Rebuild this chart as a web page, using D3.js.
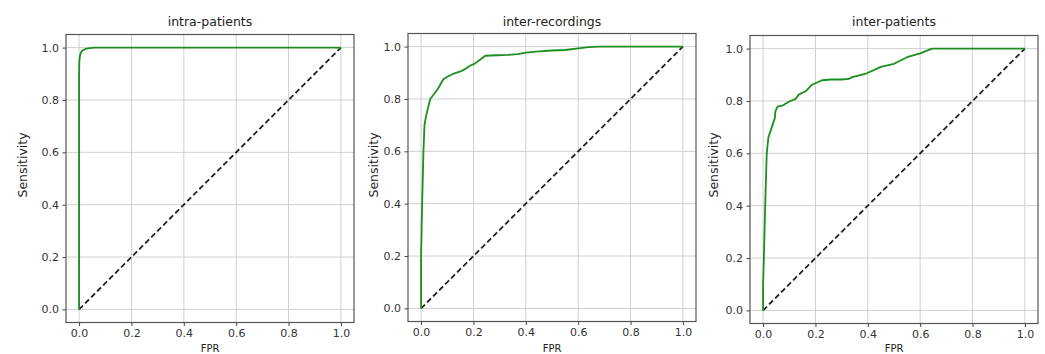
<!DOCTYPE html>
<html>
<head>
<meta charset="utf-8">
<script src="https://cdn.jsdelivr.net/npm/d3@7"></script>
<style>
  body { margin: 0; background: #fff; }
  svg { display: block; font-family: "DejaVu Sans", sans-serif; }
  .tick text { fill: #333; }
</style>
</head>
<body>
<svg id="chart" width="1045" height="354"></svg>
<script>
// values
const titles = ["intra-patients", "inter-recordings", "inter-patients"];
const ticks = [0, 0.2, 0.4, 0.6, 0.8, 1.0];

const fprIntraPatients = [0, 0.0, 0.001, 0.004, 0.008, 0.014, 0.025, 0.04, 0.06, 1.0];
const tprIntraPatients = [0, 0.9, 0.95, 0.972, 0.983, 0.99, 0.995, 0.998, 1.0, 1.0];

const fprInterRecordings = [0, 0.0, 0.002, 0.004, 0.009, 0.013, 0.018, 0.025, 0.035, 0.05, 0.065, 0.085, 0.1, 0.125, 0.15, 0.168, 0.185, 0.205, 0.225, 0.245, 0.29, 0.33, 0.37, 0.4, 0.45, 0.5, 0.55, 0.6, 0.64, 0.68, 1.0];
const tprInterRecordings = [0, 0.2, 0.3, 0.4, 0.6, 0.7, 0.73, 0.76, 0.8, 0.82, 0.84, 0.875, 0.885, 0.897, 0.905, 0.914, 0.926, 0.935, 0.95, 0.965, 0.967, 0.968, 0.971, 0.977, 0.982, 0.985, 0.987, 0.993, 0.998, 1.0, 1.0];

const fprInterPatients = [0, 0.0, 0.003, 0.008, 0.011, 0.014, 0.02, 0.03, 0.04, 0.045, 0.047, 0.055, 0.073, 0.098, 0.124, 0.136, 0.162, 0.187, 0.225, 0.26, 0.3, 0.327, 0.34, 0.39, 0.45, 0.5, 0.55, 0.6, 0.645, 1.0];
const tprInterPatients = [0, 0.1, 0.2, 0.4, 0.5, 0.6, 0.66, 0.69, 0.72, 0.735, 0.76, 0.778, 0.782, 0.797, 0.808, 0.824, 0.837, 0.862, 0.879, 0.882, 0.882, 0.884, 0.891, 0.903, 0.93, 0.942, 0.967, 0.982, 1.0, 1.0];

const chance = [0, 1];

const curves = [
  [fprIntraPatients, tprIntraPatients],
  [fprInterRecordings, tprInterRecordings],
  [fprInterPatients, tprInterPatients]
];

// panel boxes (pixels)
const boxes = [
  {left: 66, top: 34.5, ylab: 22},
  {left: 408, top: 33.5, ylab: 373},
  {left: 750, top: 35.5, ylab: 713}
];
const size = 288;

const svg = d3.select("#chart");

boxes.forEach((b, i) => {
  let x = d3.scaleLinear().domain([-0.05, 1.05]).range([b.left, b.left + size]);
  let y = d3.scaleLinear().domain([-0.05, 1.05]).range([b.top + size, b.top]);
  let g = svg.append("g");

  // grid
  g.append("g").selectAll("line").data(ticks).enter().append("line")
    .attr("x1", d => x(d)).attr("x2", d => x(d))
    .attr("y1", b.top).attr("y2", b.top + size)
    .attr("stroke", "#d0d0d0").attr("stroke-width", 1);
  g.append("g").selectAll("line").data(ticks).enter().append("line")
    .attr("y1", d => y(d)).attr("y2", d => y(d))
    .attr("x1", b.left).attr("x2", b.left + size)
    .attr("stroke", "#d0d0d0").attr("stroke-width", 1);

  // axes
  let xAxis = g.append("g")
    .attr("transform", "translate(0," + (b.top + size) + ")")
    .call(d3.axisBottom(x).tickValues(ticks).tickFormat(d3.format(".1f")).tickSizeOuter(0).tickSize(3.5).tickPadding(3.5));
  let yAxis = g.append("g")
    .attr("transform", "translate(" + b.left + ",0)")
    .call(d3.axisLeft(y).tickValues(ticks).tickFormat(d3.format(".1f")).tickSizeOuter(0).tickSize(3.5).tickPadding(3.5));
  [xAxis, yAxis].forEach(a => {
    a.select(".domain").remove();
    a.selectAll(".tick line").attr("stroke", "#444");
    a.selectAll(".tick text").attr("font-size", 11).attr("font-family", "DejaVu Sans");
  });

  // diagonal
  g.append("path")
    .datum(chance)
    .attr("d", d3.line().x(d => x(d)).y(d => y(d)))
    .attr("fill", "none").attr("stroke", "#222")
    .attr("stroke-width", 1.8).attr("stroke-dasharray", "5.5,3");

  // ROC curve
  let [fpr, tpr] = curves[i];
  g.append("path")
    .datum(d3.range(fpr.length))
    .attr("d", d3.line().x(k => x(fpr[k])).y(k => y(tpr[k])))
    .attr("fill", "none").attr("stroke", "#1c8f1c")
    .attr("stroke-width", 1.8).attr("stroke-linejoin", "round");

  // frame
  g.append("rect")
    .attr("x", b.left).attr("y", b.top).attr("width", size).attr("height", size)
    .attr("fill", "none").attr("stroke", "#555").attr("stroke-width", 1.2);

  // labels
  g.append("text").text(titles[i])
    .attr("x", b.left + size / 2).attr("y", 26)
    .attr("text-anchor", "middle").attr("font-size", 12.5).attr("fill", "#222");
  g.append("text").text("Sensitivity")
    .attr("transform", "translate(" + (b.ylab + 4.5) + "," + 165 + ") rotate(-90)")
    .attr("text-anchor", "middle").attr("font-size", 12.5).attr("fill", "#222");
  g.append("text").text("FPR")
    .attr("x", b.left + size / 2).attr("y", 352)
    .attr("text-anchor", "middle").attr("font-size", 10).attr("fill", "#222");
});
</script>
</body>
</html>
